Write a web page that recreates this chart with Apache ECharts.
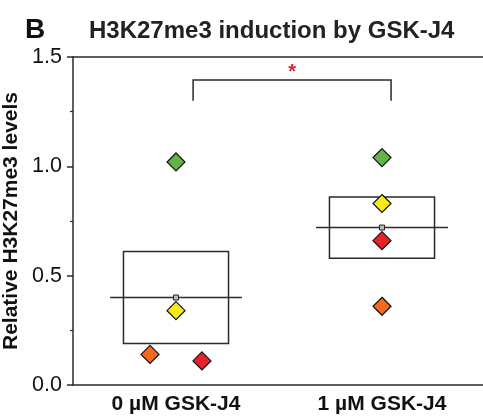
<!DOCTYPE html>
<html>
<head>
<meta charset="utf-8">
<script src="https://cdn.jsdelivr.net/npm/echarts@6/dist/echarts.min.js"></script>
<style>
  html, body { margin: 0; padding: 0; background: #fff; }
  #chart { width: 483px; height: 417px; }
</style>
</head>
<body>
<div id="chart"></div>
<script>
const groups = ["0 \u00b5M GSK-J4", "1 \u00b5M GSK-J4"];
const greenVals = [1.02, 1.04];
const yellowVals = [0.34, 0.83];
const redVals = [0.11, 0.66];
const orangeVals = [0.14, 0.36];
const meanVals = [0.40, 0.72];
const boxLow = [0.19, 0.58];
const boxHigh = [0.61, 0.86];
const yTicks = [0, 0.5, 1.0, 1.5];

// horizontal jitter of the points inside each group
const jitter = {
    green: [0, 0],
    yellow: [0, 0],
    red: [0.126, 0],
    orange: [-0.126, 0],
};

const bracketX = [0.583, 1.544];
const bracketY = [1.30, 1.395];
const starY = 1.43;

const font = "'Liberation Sans', Arial, sans-serif";
const lineColor = "#2a2a2a";

function pts(vals, key) {
    return vals.map((v, i) => [i + 0.5 + jitter[key][i], v]);
}

function diamondSeries(name, vals, key, color) {
    return {
        name: name,
        type: "scatter",
        xAxisIndex: 1,
        symbol: "diamond",
        symbolSize: [18, 18],
        z: 5,
        itemStyle: { color: color, borderColor: "#111", borderWidth: 1.2, opacity: 1 },
        data: pts(vals, key),
    };
}

const chart = echarts.init(document.getElementById("chart"));
chart.setOption({
    animation: false,
    textStyle: { fontFamily: font },
    title: [
        {
            text: "B",
            left: 20,
            top: 11,
            textStyle: { fontSize: 28, fontWeight: "bold", color: "#111", fontFamily: font },
        },
        {
            text: "H3K27me3 induction by GSK-J4",
            left: 84,
            top: 14,
            textStyle: { fontSize: 24, fontWeight: "bold", color: "#222", fontFamily: font },
        },
    ],
    grid: { left: 73, top: 57, right: -2, bottom: 32, outerBoundsMode: "none" },
    xAxis: [
        {
            type: "category",
            data: groups,
            boundaryGap: true,
            axisLine: { lineStyle: { color: lineColor, width: 1.5 } },
            axisTick: { alignWithLabel: true, length: 6, lineStyle: { color: lineColor, width: 1.5 } },
            axisLabel: { fontSize: 21, fontWeight: "bold", color: "#111", margin: 9, fontFamily: font },
            splitLine: { show: false },
        },
        {
            type: "value",
            position: "top",
            min: 0,
            max: 2,
            axisLine: { show: true, onZero: false, lineStyle: { color: lineColor, width: 1.5 } },
            axisTick: { show: false },
            axisLabel: { show: false },
            splitLine: { show: false },
        },
    ],
    yAxis: {
        type: "value",
        min: yTicks[0],
        max: yTicks[yTicks.length - 1],
        interval: 0.5,
        name: "Relative H3K27me3 levels",
        nameLocation: "middle",
        nameGap: 47,
        nameTextStyle: { fontSize: 21, fontWeight: "bold", color: "#111", fontFamily: font },
        axisLine: { show: true, lineStyle: { color: lineColor, width: 1.5 } },
        axisTick: { show: true, length: 6, lineStyle: { color: lineColor, width: 1.5 } },
        minorTick: { show: true, splitNumber: 2, length: 3, lineStyle: { color: lineColor, width: 1.2 } },
        axisLabel: {
            fontSize: 21.5,
            color: "#111",
            margin: 11,
            fontFamily: font,
            formatter: (v) => v.toFixed(1),
        },
        splitLine: { show: false },
    },
    series: [
        {
            // mean ± SEM boxes with mean line
            type: "custom",
            xAxisIndex: 1,
            z: 2,
            data: groups.map((g, i) => [i + 0.5, boxLow[i], boxHigh[i], meanVals[i]]),
            encode: { x: 0, y: [1, 2, 3] },
            renderItem: function (params, api) {
                const c = api.value(0);
                const lo = api.value(1);
                const hi = api.value(2);
                const m = api.value(3);
                const tl = api.coord([c - 0.255, hi]);
                const br = api.coord([c + 0.255, lo]);
                const ml = api.coord([c - 0.32, m]);
                const mr = api.coord([c + 0.32, m]);
                const mc = api.coord([c, m]);
                const st = { stroke: lineColor, lineWidth: 1.5, fill: null };
                return {
                    type: "group",
                    children: [
                        { type: "rect", shape: { x: tl[0], y: tl[1], width: br[0] - tl[0], height: br[1] - tl[1] }, style: st },
                        { type: "line", shape: { x1: ml[0], y1: ml[1], x2: mr[0], y2: mr[1] }, style: st },
                        { type: "rect", shape: { x: mc[0] - 2.5, y: mc[1] - 2.5, width: 5, height: 5 }, style: { stroke: "#222", lineWidth: 1, fill: "#bbb" } },
                    ],
                };
            },
        },
        {
            // significance bracket and star
            type: "custom",
            xAxisIndex: 1,
            z: 2,
            data: [[bracketX[0], bracketX[1], bracketY[0], bracketY[1], starY]],
            encode: { x: [0, 1], y: [2, 3, 4] },
            renderItem: function (params, api) {
                const a = api.coord([api.value(0), api.value(2)]);
                const b = api.coord([api.value(0), api.value(3)]);
                const c = api.coord([api.value(1), api.value(3)]);
                const d = api.coord([api.value(1), api.value(2)]);
                const s = api.coord([(api.value(0) + api.value(1)) / 2, api.value(4)]);
                return {
                    type: "group",
                    children: [
                        { type: "polyline", shape: { points: [a, b, c, d] }, style: { stroke: lineColor, lineWidth: 1.5, fill: null } },
                        {
                            type: "text",
                            x: s[0],
                            y: s[1],
                            style: { text: "*", fill: "#e8202a", font: "bold 20px " + font, align: "center", verticalAlign: "middle" },
                        },
                    ],
                };
            },
        },
        diamondSeries("orange", orangeVals, "orange", "#f26a1e"),
        diamondSeries("red", redVals, "red", "#e8222a"),
        diamondSeries("yellow", yellowVals, "yellow", "#f8ea1a"),
        diamondSeries("green", greenVals, "green", "#62b446"),
    ],
});
</script>
</body>
</html>
